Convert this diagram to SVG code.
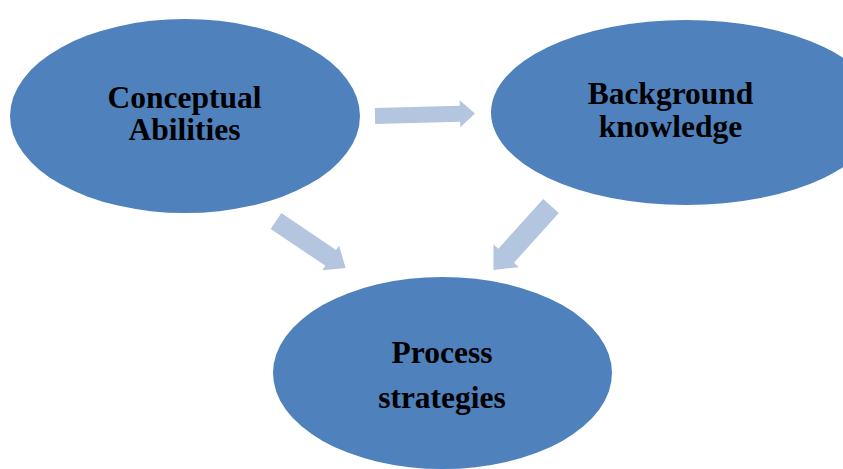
<svg xmlns="http://www.w3.org/2000/svg" width="843" height="469" viewBox="0 0 843 469">
  <style>
    .node { fill: #4F81BD; }
    .label { font-family: "Liberation Serif", "Times New Roman", serif; font-weight: bold; font-size: 31.5px; fill: #000; text-anchor: middle; }
    .arrow { fill: #B4C5DF; }
  </style>
  <rect width="843" height="469" fill="#fff"/>

  <g id="connectors">
    <!-- block arrows: shaft + head, drawn along +x then placed -->
    <path class="arrow" transform="translate(375,116) rotate(-1.5)" d="M0,-8 L85,-8 L85,-13.5 L100,0 L85,13.5 L85,8 L0,8 Z"/>
    <path class="arrow" transform="translate(276,221) rotate(34)" d="M0,-9.5 L66,-9.5 L66,-15 L84,0 L66,15 L66,9.5 L0,9.5 Z"/>
    <path class="arrow" transform="translate(551,206) rotate(132)" d="M0,-10.5 L67,-10.5 L67,-17 L86,0 L67,17 L67,10.5 L0,10.5 Z"/>
  </g>

  <g id="conceptual-abilities">
    <ellipse class="node" cx="185" cy="116" rx="175" ry="97"/>
    <text class="label" x="184.5" y="108">Conceptual</text>
    <text class="label" x="184.5" y="140">Abilities</text>
  </g>

  <g id="background-knowledge">
    <ellipse class="node" cx="686" cy="112.5" rx="195" ry="92.5"/>
    <text class="label" x="670.5" y="103.5">Background</text>
    <text class="label" x="670.5" y="136.5">knowledge</text>
  </g>

  <g id="process-strategies">
    <ellipse class="node" cx="442.5" cy="373" rx="169.5" ry="96"/>
    <text class="label" x="442" y="362.5">Process</text>
    <text class="label" x="442" y="408">strategies</text>
  </g>
</svg>
